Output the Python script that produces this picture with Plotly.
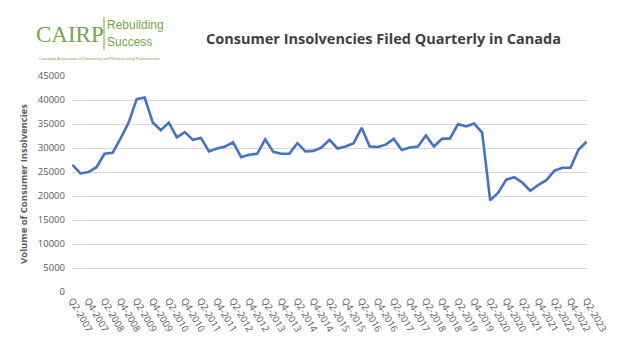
import plotly.graph_objects as go

years = list(range(2007, 2024))
quarters = [f"Q{q}-{y}" for y in years for q in (1, 2, 3, 4)]
quarters = quarters[quarters.index("Q2-2007"):quarters.index("Q2-2023") + 1]

insolvencies = [26500, 24700, 25000, 26000, 28800, 29000, 32000, 35300, 40200, 40500,
                35300, 33700, 35300, 32200, 33300, 31700, 32100, 29300, 29900, 30300,
                31200, 28100, 28600, 28800, 31800, 29200, 28800, 28800, 31000, 29300,
                29400, 30100, 31700, 29900, 30300, 31000, 34200, 30300, 30200, 30700,
                31900, 29600, 30100, 30300, 32600, 30300, 31900, 32000, 35000, 34500,
                35100, 33200, 19100, 20700, 23400, 23900, 22800, 21100, 22300, 23300,
                25300, 25900, 25900, 29700, 31300]

tick_labels = quarters[::2]
y_ticks = list(range(0, 45001, 5000))

title_text = "Consumer Insolvencies Filed Quarterly in Canada"
y_title = "Volume of Consumer Insolvencies"

W, H = 634, 352
L, R, T, B = 72, 587, 76, 292

def px(x):
    return (x - L) / (R - L)

def py(y):
    return (B - y) / (B - T)

fig = go.Figure()
fig.add_trace(go.Scatter(
    x=quarters, y=insolvencies, mode="lines",
    line=dict(color="#4472C4", width=2.6),
    hoverinfo="x+y", showlegend=False,
))

green = "#70a844"
fig.update_layout(
    width=W, height=H,
    margin=dict(l=L, r=W - R, t=T, b=H - B),
    paper_bgcolor="white", plot_bgcolor="white",
    font=dict(family="Open Sans, Liberation Sans, sans-serif", color="#595959", size=10),
    xaxis=dict(
        type="category", categoryorder="array", categoryarray=quarters,
        tickmode="array", tickvals=tick_labels, ticktext=tick_labels,
        tickangle=60, showgrid=False, showline=False, zeroline=False,
        range=[-0.05, len(quarters) - 0.95], ticks="",
        tickfont=dict(size=9.5, color="#595959"),
    ),
    yaxis=dict(
        range=[0, 45000], tickmode="array", tickvals=y_ticks,
        ticktext=[str(v) for v in y_ticks],
        showgrid=True, gridcolor="#d9d9d9", gridwidth=1,
        zeroline=False, showline=False, ticks="", ticklen=0,
        ticklabelstandoff=6,
        tickfont=dict(size=9.5, color="#595959"),
        title=dict(text=y_title, font=dict(size=9.5, color="#595959",
                   family="Open Sans, Liberation Sans, sans-serif", weight="bold"),
                   standoff=8),
    ),
)

fig.add_annotation(text=f"<b>{title_text}</b>", xref="paper", yref="paper",
                   x=px(383), y=py(38), xanchor="center", yanchor="middle",
                   showarrow=False, font=dict(size=14.5, color="#404040",
                   family="Open Sans, Liberation Sans, sans-serif"))

# logo
fig.add_annotation(text="CAIRP", xref="paper", yref="paper",
                   x=px(34), y=py(35), xanchor="left", yanchor="middle",
                   showarrow=False, font=dict(size=23, color=green,
                   family="Liberation Serif, DejaVu Serif, serif"))
fig.add_shape(type="line", xref="paper", yref="paper",
              x0=px(104), x1=px(104), y0=py(17), y1=py(50),
              line=dict(color=green, width=1))
fig.add_annotation(text="Rebuilding", xref="paper", yref="paper",
                   x=px(105), y=py(25), xanchor="left", yanchor="middle",
                   showarrow=False, font=dict(size=12, color=green,
                   family="Liberation Sans Narrow, Liberation Sans, sans-serif"))
fig.add_annotation(text="Success", xref="paper", yref="paper",
                   x=px(105), y=py(42), xanchor="left", yanchor="middle",
                   showarrow=False, font=dict(size=12, color=green,
                   family="Liberation Sans Narrow, Liberation Sans, sans-serif"))
fig.add_annotation(text="Canadian Association of Insolvency and Restructuring Professionals",
                   xref="paper", yref="paper",
                   x=px(37), y=py(58), xanchor="left", yanchor="middle",
                   showarrow=False, font=dict(size=4, color=green,
                   family="Liberation Sans Narrow, Liberation Sans, sans-serif"))

fig.write_html("out.html")
